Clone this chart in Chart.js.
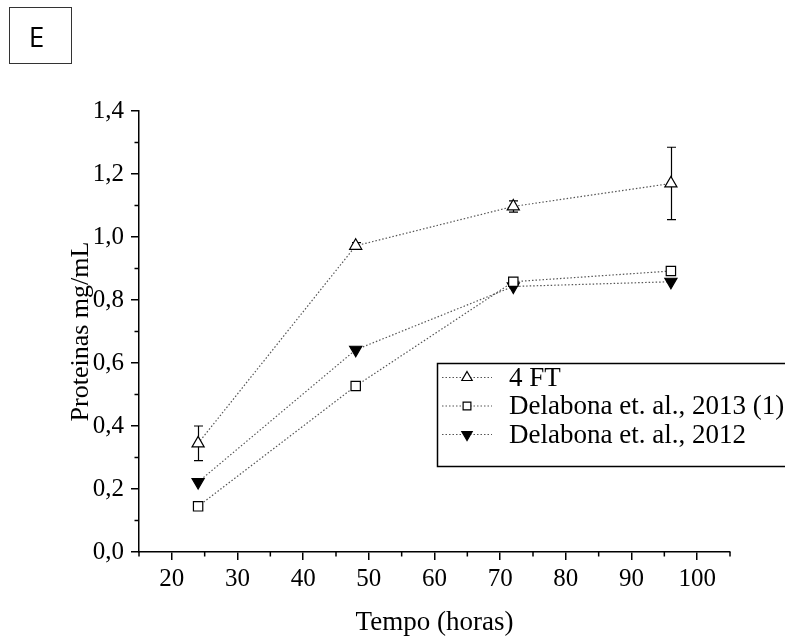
<!DOCTYPE html>
<html>
<head>
<meta charset="utf-8">
<script src="https://cdn.jsdelivr.net/npm/chart.js@4/dist/chart.umd.min.js"></script>
<style>
  body { margin: 0; background: #fff; }
  #wrap { position: relative; width: 785px; height: 640px; }
  #painel {
    position: absolute; left: 9px; top: 7px; width: 63px; height: 57px;
    border: 1.5px solid #333; box-sizing: border-box; padding-right: 8px;
    font-family: "Open Sans", sans-serif; font-size: 28px; color: #000;
    display: flex; align-items: center; justify-content: center;
  }
</style>
</head>
<body>
<div id="wrap">
  <canvas id="proteinasChart" width="785" height="640"></canvas>
  <div id="painel">E</div>
</div>
<script>
// dados
const tempos = [24, 48, 72, 96];
const ft4 = [0.345, 0.972, 1.097, 1.170];
const ft4Erro = [0.055, 0.010, 0.018, 0.115];
const delabona2013 = [0.145, 0.527, 0.858, 0.892];
const delabona2012 = [0.222, 0.642, 0.843, 0.858];

const xTicks = [20, 30, 40, 50, 60, 70, 80, 90, 100];
const xMinor = [15, 25, 35, 45, 55, 65, 75, 85, 95, 105];
const yTicks = [0, 0.2, 0.4, 0.6, 0.8, 1.0, 1.2, 1.4];
const yMinor = [0.1, 0.3, 0.5, 0.7, 0.9, 1.1, 1.3];

const legendas = ['4 FT', 'Delabona et. al., 2013 (1)', 'Delabona et. al., 2012'];

const serif = "'Liberation Serif', 'Times New Roman', serif";

function pontos(valores) {
    return tempos.map((t, i) => ({ x: t, y: valores[i] }));
}

const estiloLinha = {
    showLine: true,
    borderColor: '#555',
    borderWidth: 1.2,
    borderDash: [1.5, 2],
    pointBorderColor: '#000',
    pointBorderWidth: 1.2,
    pointRadius: 7,
    pointHoverRadius: 7
};

const series = [
    Object.assign({}, estiloLinha, { label: legendas[0], data: pontos(ft4), pointStyle: 'triangle', pointBackgroundColor: '#fff' }),
    Object.assign({}, estiloLinha, { label: legendas[1], data: pontos(delabona2013), pointStyle: 'rect', pointRadius: 6.6, pointBackgroundColor: '#fff' }),
    Object.assign({}, estiloLinha, { label: legendas[2], data: pontos(delabona2012), pointStyle: 'triangle', pointRotation: 180, pointBackgroundColor: '#000' })
];

// barras de erro do 4 FT
const barrasErro = {
    id: 'barrasErro',
    beforeDatasetsDraw(chart) {
        const ctx = chart.ctx, xs = chart.scales.x, ys = chart.scales.y;
        ctx.save();
        ctx.strokeStyle = '#000';
        ctx.lineWidth = 1.2;
        tempos.forEach((t, i) => {
            const x = Math.round(xs.getPixelForValue(t)) + 0.5;
            const top = ys.getPixelForValue(ft4[i] + ft4Erro[i]);
            const bot = ys.getPixelForValue(ft4[i] - ft4Erro[i]);
            ctx.beginPath();
            ctx.moveTo(x, top); ctx.lineTo(x, bot);
            ctx.moveTo(x - 4.5, top); ctx.lineTo(x + 4.5, top);
            ctx.moveTo(x - 4.5, bot); ctx.lineTo(x + 4.5, bot);
            ctx.stroke();
        });
        ctx.restore();
    }
};

// ticks menores
const ticksMenores = {
    id: 'ticksMenores',
    afterDraw(chart) {
        const ctx = chart.ctx, xs = chart.scales.x, ys = chart.scales.y;
        const area = chart.chartArea;
        ctx.save();
        ctx.strokeStyle = '#000';
        ctx.lineWidth = 1.5;
        ctx.beginPath();
        xMinor.forEach(v => {
            const x = xs.getPixelForValue(v);
            ctx.moveTo(x, area.bottom); ctx.lineTo(x, area.bottom + 4.5);
        });
        yMinor.forEach(v => {
            const y = ys.getPixelForValue(v);
            ctx.moveTo(area.left, y); ctx.lineTo(area.left - 4.5, y);
        });
        ctx.stroke();
        ctx.restore();
    }
};

// legenda desenhada dentro do gráfico
const legendaCaixa = {
    id: 'legendaCaixa',
    afterDraw(chart) {
        const ctx = chart.ctx;
        ctx.save();
        ctx.strokeStyle = '#000';
        ctx.lineWidth = 1.5;
        ctx.strokeRect(437.5, 363.5, 400, 103);
        series.forEach((s, i) => {
            const y = 377.5 + i * 28.5;
            ctx.save();
            ctx.strokeStyle = '#555';
            ctx.lineWidth = 1.2;
            ctx.setLineDash([1.5, 2]);
            ctx.beginPath();
            ctx.moveTo(442, y); ctx.lineTo(492, y);
            ctx.stroke();
            ctx.restore();
            ctx.fillStyle = s.pointBackgroundColor;
            ctx.strokeStyle = '#000';
            ctx.lineWidth = 1.2;
            Chart.helpers.drawPoint(ctx, {
                pointStyle: s.pointStyle,
                radius: s.pointStyle === 'rect' ? 5.5 : 6,
                rotation: s.pointRotation || 0,
                borderWidth: 1.2
            }, 467, y);
            ctx.fillStyle = '#000';
            ctx.font = '27px ' + serif;
            ctx.textBaseline = 'middle';
            ctx.textAlign = 'left';
            ctx.fillText(legendas[i], 509, y + 1);
        });
        ctx.restore();
    }
};

new Chart(document.getElementById('proteinasChart'), {
    type: 'scatter',
    data: { datasets: series },
    options: {
        responsive: false,
        animation: false,
        layout: { padding: { left: 66, right: 55, top: 111, bottom: 0 } },
        scales: {
            x: {
                type: 'linear',
                min: 15,
                max: 105,
                afterBuildTicks: s => { s.ticks = xTicks.map(v => ({ value: v })); },
                afterFit: s => { s.height = 88; },
                border: { display: true, color: '#000', width: 1.5 },
                grid: { drawOnChartArea: false, drawTicks: true, tickLength: 8, color: '#000', lineWidth: 1.5 },
                ticks: { color: '#000', padding: 4, maxRotation: 0, font: { family: serif, size: 25 } },
                title: { display: true, text: 'Tempo (horas)', color: '#000', padding: { top: 0, bottom: 1 }, font: { family: serif, size: 27 } }
            },
            y: {
                type: 'linear',
                min: 0,
                max: 1.4,
                afterBuildTicks: s => { s.ticks = yTicks.map(v => ({ value: v })); },
                afterFit: s => { s.width = 73; },
                border: { display: true, color: '#000', width: 1.5 },
                grid: { drawOnChartArea: false, drawTicks: true, tickLength: 8, color: '#000', lineWidth: 1.5 },
                ticks: {
                    color: '#000', padding: 7,
                    font: { family: serif, size: 25 },
                    callback: v => v.toFixed(1).replace('.', ',')
                },
                title: { display: true, text: 'Proteinas mg/mL', color: '#000', padding: { top: 0, bottom: 0 }, font: { family: serif, size: 26 } }
            }
        },
        plugins: {
            legend: { display: false },
            tooltip: { enabled: false }
        }
    },
    plugins: [barrasErro, ticksMenores, legendaCaixa]
});
</script>
</body>
</html>
